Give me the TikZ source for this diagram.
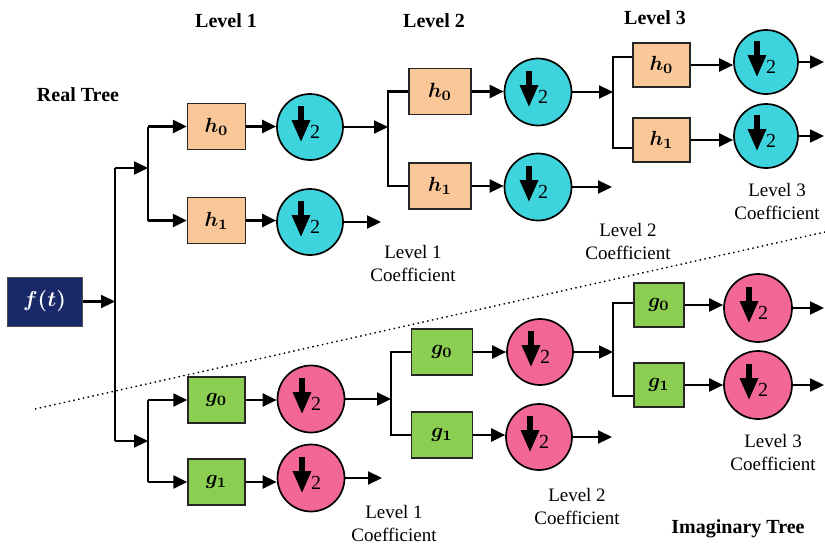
\documentclass[tikz,border=0pt]{standalone}
\usepackage{graphicx}
\usepackage{fontspec}
\setmainfont{Liberation Serif}
\usetikzlibrary{arrows.meta}
\definecolor{peach}{RGB}{250,200,152}
\definecolor{cyanc}{RGB}{62,212,222}
\definecolor{greenb}{RGB}{140,206,82}
\definecolor{pinkc}{RGB}{242,102,152}
\definecolor{navyb}{RGB}{24,40,105}
\newcommand\dsmark[1]{%
  \fill ([shift={(-12.3,-21)}]#1.center) rectangle ([shift={(-5.7,-6)}]#1.center);
  \fill ([shift={(-18.5,-7)}]#1.center) -- ([shift={(0.5,-7)}]#1.center) -- ([shift={(-9,14.5)}]#1.center) -- cycle;
  \node[font=\fontsize{20}{20}\selectfont, inner sep=0pt] (#1two) at ([shift={(5,4.5)}]#1.center) {2};
}
\newcommand\mlab[1]{\scalebox{2.05}{\boldmath$#1$}}
\begin{document}
\begin{tikzpicture}[x=1pt,y=-1pt,
  hbox/.style={draw=black!85, line width=1.3pt, fill=peach, minimum width=58pt, minimum height=46pt, inner sep=0pt},
  gbox/.style={hbox, fill=greenb},
  cds/.style={circle, draw=black, line width=1.7pt, fill=cyanc, minimum size=66pt, inner sep=0pt},
  pds/.style={cds, fill=pinkc},
  conn/.style={line width=2.2pt, draw=black},
  arr/.style={conn, -{Triangle[length=14pt,width=13pt]}},
  lbl/.style={font=\fontsize{19}{23}\selectfont, align=center, inner sep=0pt},
  blbl/.style={font=\bfseries\fontsize{20}{22}\selectfont, inner sep=0pt},
]
\useasboundingbox (0,0) rectangle (825,549);
\fill[white] (0,0) rectangle (825,549);

% dotted separator
\coordinate (d1) at (35,409);
\coordinate (d2) at (825,232);
\draw[line width=1.4pt, dash pattern=on 1.5pt off 3.4pt] (d1) -- (d2);

% input
\node[draw=black!70, line width=1pt, fill=navyb, minimum width=75pt, minimum height=49pt, inner sep=0pt, text=white] (ft) at (44.5,301.5) {\scalebox{2.15}{\boldmath$f(t)$}};

% ---------- real tree ----------
\node[hbox] (rh10) at (216.5,126.5) {\mlab{h_0}};
\node[hbox] (rh11) at (216.5,220.5) {\mlab{h_1}};
\node[cds] (rc10) at (310,127) {};
\node[cds] (rc11) at (310,222) {};
\node[hbox, minimum width=62pt] (rh20) at (440,91.5) {\mlab{h_0}};
\node[hbox, minimum width=62pt] (rh21) at (440,186) {\mlab{h_1}};
\node[cds, minimum size=67pt] (rc20) at (538,92) {};
\node[cds, minimum size=67pt] (rc21) at (538,187) {};
\node[hbox, minimum width=57pt, minimum height=44pt] (rh30) at (661.5,65) {\mlab{h_0}};
\node[hbox, minimum width=57pt, minimum height=44pt] (rh31) at (661.5,140) {\mlab{h_1}};
\node[cds, minimum size=64pt] (rc30) at (766,62) {};
\node[cds, minimum size=64pt] (rc31) at (766,136) {};

% ---------- imaginary tree ----------
\node[gbox, minimum width=57pt] (ig10) at (216.5,400) {\mlab{g_0}};
\node[gbox, minimum width=57pt] (ig11) at (216.5,482) {\mlab{g_1}};
\node[pds, minimum size=67pt] (ic10) at (311,399) {};
\node[pds, minimum size=67pt] (ic11) at (311,478) {};
\node[gbox, minimum width=61pt] (ig20) at (442,352) {\mlab{g_0}};
\node[gbox, minimum width=61pt] (ig21) at (442,435) {\mlab{g_1}};
\node[pds] (ic20) at (540,352) {};
\node[pds] (ic21) at (539,437) {};
\node[gbox, minimum width=50pt, minimum height=44pt] (ig30) at (659,305) {\mlab{g_0}};
\node[gbox, minimum width=50pt, minimum height=44pt] (ig31) at (659,385) {\mlab{g_1}};
\node[pds, minimum size=68pt] (ic30) at (758,308) {};
\node[pds, minimum size=68pt] (ic31) at (758,385) {};

\foreach \c in {rc10,rc11,rc20,rc21,rc30,rc31,ic10,ic11,ic20,ic21,ic30,ic31}{\dsmark{\c}}

% junction coordinates
\coordinate (r0t) at (115,168);
\coordinate (r0b) at (115,441);
\coordinate (r0m) at (115,301.5);
\coordinate (r1t) at (148,126.5);
\coordinate (r1b) at (148,220.5);
\coordinate (r1m) at (148,168);
\coordinate (i1t) at (148,400);
\coordinate (i1b) at (148,482);
\coordinate (i1m) at (148,441);
\coordinate (r2t) at (388,91.5);
\coordinate (r2b) at (388,186);
\coordinate (r2m) at (388,127);
\coordinate (r3t) at (613,57);
\coordinate (r3b) at (613,148);
\coordinate (r3m) at (613,92);
\coordinate (i2t) at (391,352);
\coordinate (i2b) at (391,435);
\coordinate (i2m) at (391,399);
\coordinate (i3t) at (613,303);
\coordinate (i3b) at (613,396);
\coordinate (i3m) at (613,352);
% free ends
\coordinate (o11) at (381,222);
\coordinate (o21) at (612,187);
\coordinate (o30) at (824,62);
\coordinate (o31) at (824,136);
\coordinate (p11) at (382,478);
\coordinate (p21) at (612,437);
\coordinate (p30) at (824,308);
\coordinate (p31) at (824,385);

% root split
\draw[arr] (ft.east) -- (r0m);
\draw[conn] (r0t) -- (r0b);
\draw[arr] (r0t) -- (r1m);
\draw[arr] (r0b) -- (i1m);

% level 1 real
\draw[conn] (r1t) -- (r1b);
\draw[arr] (r1t) -- (rh10.west);
\draw[arr] (r1b) -- (rh11.west);
\draw[arr] (rh10.east) -- (rh10.east -| rc10.west);
\draw[arr] (rh11.east) -- (rh11.east -| rc11.west);
\draw[arr] (rc10.east) -- (r2m);
\draw[arr] (rc11.east) -- (o11);

% level 2 real
\draw[conn] (rh20.west) -- (r2t) -- (r2b) -- (rh21.west);
\draw[arr] (rh20.east) -- (rh20.east -| rc20.west);
\draw[arr] (rh21.east) -- (rh21.east -| rc21.west);
\draw[arr] (rc20.east) -- (r3m);
\draw[arr] (rc21.east) -- (o21);

% level 3 real
\draw[conn] (r3t -| rh30.west) -- (r3t) -- (r3b) -- (r3b -| rh31.west);
\draw[arr] (rh30.east) -- (rh30.east -| rc30.west);
\draw[arr] (rh31.east) -- (rh31.east -| rc31.west);
\draw[arr] (rc30.east) -- (o30);
\draw[arr] (rc31.east) -- (o31);

% level 1 imaginary
\draw[conn] (i1t) -- (i1b);
\draw[arr] (i1t) -- (ig10.west);
\draw[arr] (i1b) -- (ig11.west);
\draw[arr] (ig10.east) -- (ig10.east -| ic10.west);
\draw[arr] (ig11.east) -- (ig11.east -| ic11.west);
\draw[arr] (ic10.east) -- (i2m);
\draw[arr] (ic11.east) -- (p11);

% level 2 imaginary
\draw[conn] (ig20.west) -- (i2t) -- (i2b) -- (ig21.west);
\draw[arr] (ig20.east) -- (ig20.east -| ic20.west);
\draw[arr] (ig21.east) -- (ig21.east -| ic21.west);
\draw[arr] (ic20.east) -- (i3m);
\draw[arr] (ic21.east) -- (p21);

% level 3 imaginary
\draw[conn] (i3t -| ig30.west) -- (i3t) -- (i3b) -- (i3b -| ig31.west);
\draw[arr] (ig30.east) -- (ig30.east -| ic30.west);
\draw[arr] (ig31.east) -- (ig31.east -| ic31.west);
\draw[arr] (ic30.east) -- (p30);
\draw[arr] (ic31.east) -- (p31);

% labels
\node[blbl] (tl1) at (226,21) {Level 1};
\node[blbl] (tl2) at (434,21) {Level 2};
\node[blbl] (tl3) at (655,18) {Level 3};
\node[blbl] (treal) at (78,95) {Real Tree};
\node[blbl] (timag) at (738,529) {Imaginary Tree};

\node[lbl] (rl1) at (413,263) {Level 1\\Coefficient};
\node[lbl] (rl2) at (628,241) {Level 2\\Coefficient};
\node[lbl] (rl3) at (777,201) {Level 3\\Coefficient};
\node[lbl] (il1) at (394,523) {Level 1\\Coefficient};
\node[lbl] (il2) at (577,506) {Level 2\\Coefficient};
\node[lbl] (il3) at (773,452) {Level 3\\Coefficient};
\end{tikzpicture}
\end{document}
